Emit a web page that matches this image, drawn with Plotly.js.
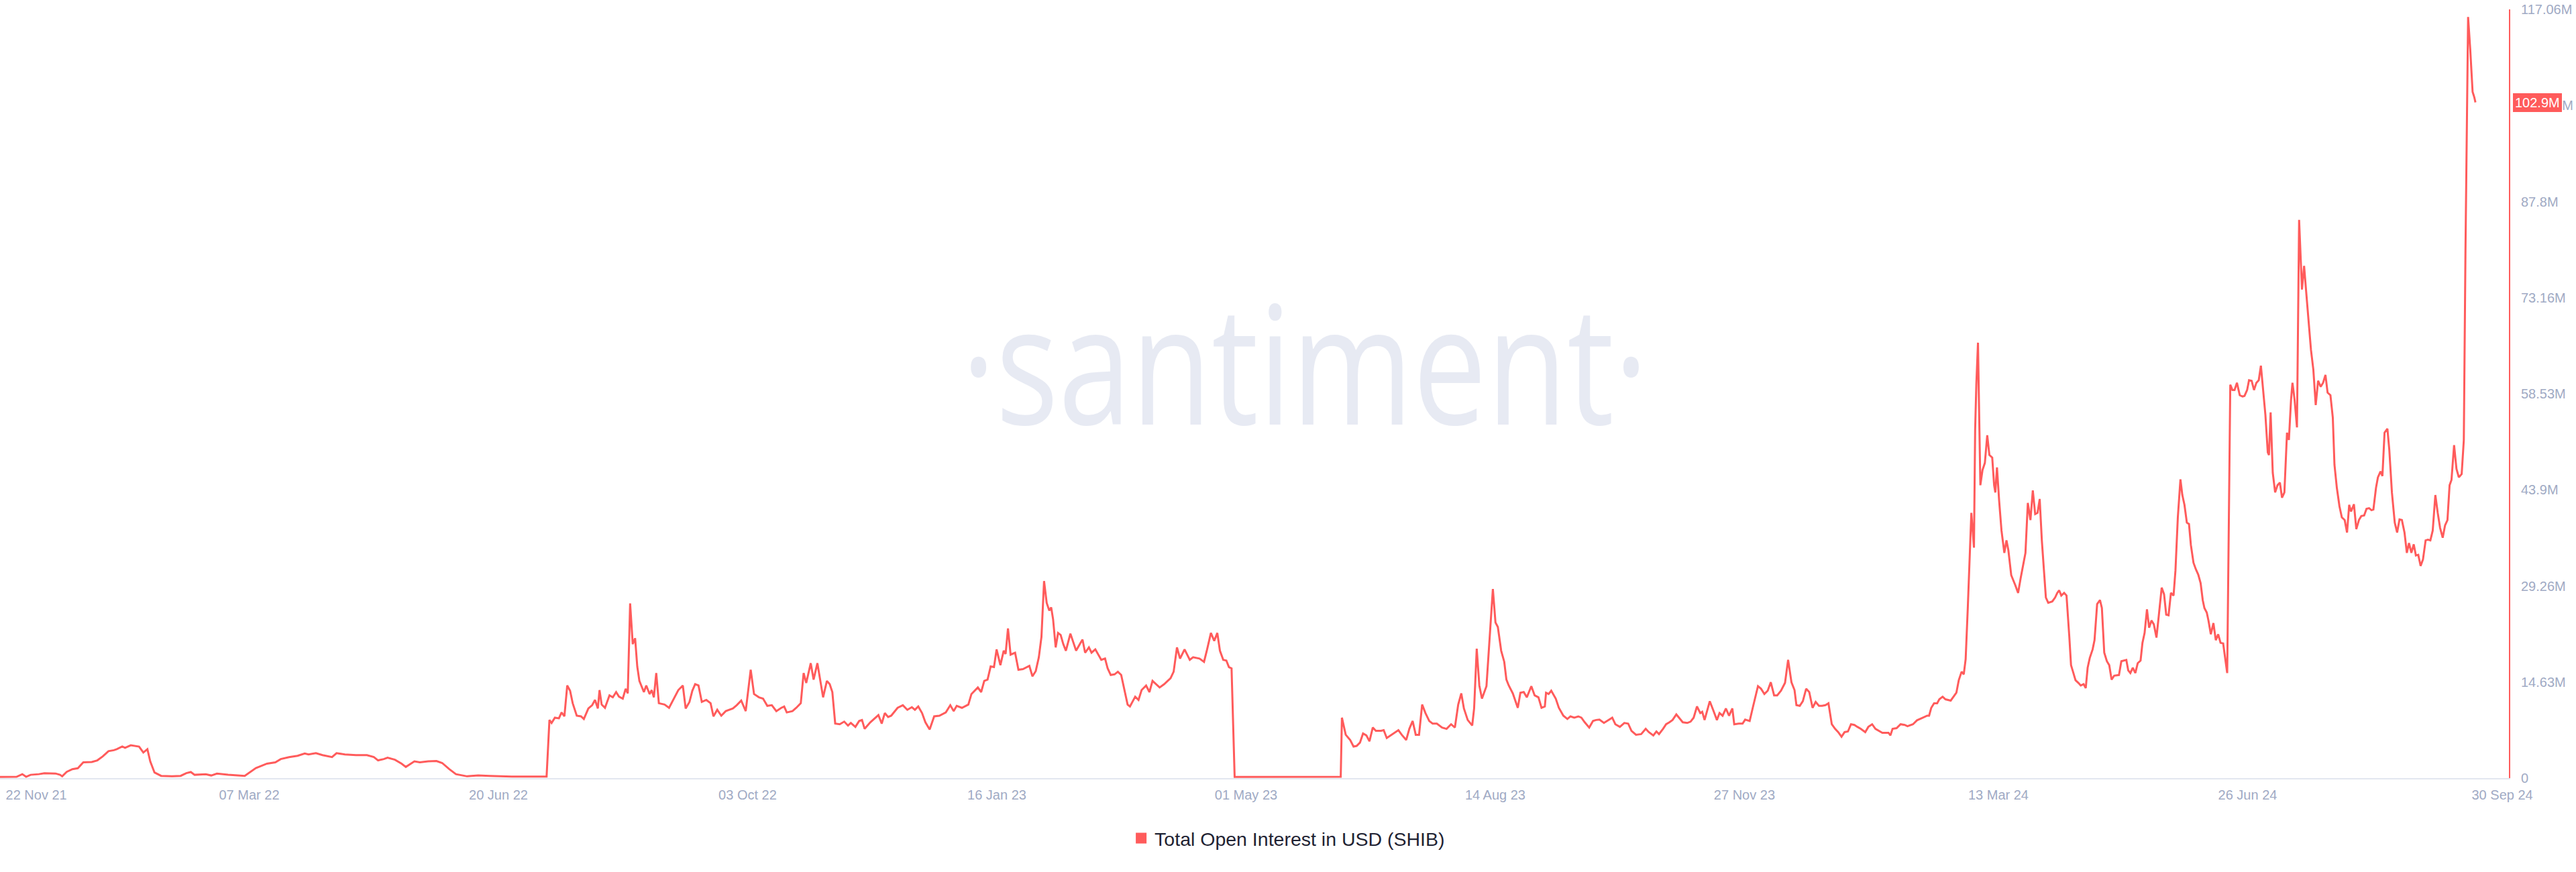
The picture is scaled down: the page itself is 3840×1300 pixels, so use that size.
<!DOCTYPE html>
<html>
<head>
<meta charset="utf-8">
<script src="https://cdn.plot.ly/plotly-3.0.1.min.js"></script>
<style>
  html, body { margin: 0; padding: 0; background: #ffffff; }
  #chart { width: 3840px; height: 1300px; }
</style>
</head>
<body>
<div id="chart"></div>
<script>
// ---------------- DATA ----------------
// Day offsets counted from 22 Nov 2021, value = total open interest in millions of USD
const BASE_DATE = Date.UTC(2021, 10, 22);

const oiLate2021to2022 = [
  [0,0.17],[7,0.2],[9.4,0.6],[11,0.2],[12.9,0.5],[16.4,0.6],[18.7,0.75],[23.4,0.7],[25.3,0.5],[26.2,0.27],
  [28.1,0.95],[30.5,1.36],[32.8,1.5],[35.1,2.4],[38.7,2.45],[41,2.7],[43.3,3.3],[45.7,4.1],[48,4.25],[49.2,4.4],
  [51.5,4.8],[52.7,4.6],[55.1,5.0],[58.6,4.8],[60.4,3.9],[62.1,4.4],[63.3,2.55],[65.1,0.85],[67.9,0.34],[72.6,0.27],
  [76.1,0.34],[78.5,0.75],[80.4,0.92],[82,0.5],[86.7,0.58],[89,0.4],[91.4,0.68],[96.1,0.5],[103.1,0.34],[107.8,1.53],
  [112.5,2.2],[116,2.4],[118.3,2.9],[121.8,3.2],[125.4,3.4],[128.4,3.75],[130,3.6],[133.1,3.8],[135.9,3.5],[139.9,3.2],
  [141.8,3.8],[145.3,3.6],[150,3.5],[154.6,3.5],[157.5,3.2],[159.3,2.7],[161.7,2.9],[163.3,3.1],[166.4,2.8],[169.2,2.2],
  [171,1.7],[174.6,2.55],[176.9,2.4],[180.4,2.55],[183.9,2.6],[186.3,2.3],[189.3,1.36],[192.1,0.6],[196.8,0.27],[201.5,0.4],
  [206.2,0.34],[215.6,0.24],[230.3,0.24],[231.5,8.85],[232.4,8.4],[233.8,9.2],[235.5,9.1],[236.6,10.0],[237.8,9.4],[239,14.1],
  [240.2,13.3],[241.3,11.4],[243,9.5],[244.8,9.4],[246,9.0],[247.9,10.6],[249.5,11.1],[250.7,11.9],[251.9,10.6],[252.6,13.4],
  [253.5,11.2],[254.9,10.7],[256.8,12.6],[258.2,12.3],[259.6,13.1],[260.8,12.4],[262.4,12.1],[263.6,13.6],[264.5,12.9],[265.5,26.6],
  [266.6,20.4],[267.6,21.3],[268.5,17.0],[269.4,14.8],[271.3,13.1],[272.3,14.1],[273.7,12.8],[274.6,13.4],[275.5,12.3],[276.5,16.0],
  [277.6,11.4],[280,11.2],[281.9,10.7],[284,12.1],[285.8,13.4],[287.7,14.1],[288.9,10.6],[290.5,11.6],[291.7,13.3],[292.9,14.3],
  [294.3,14.1],[295.7,11.6],[297.6,11.9],[299.4,11.4],[300.6,9.4],[302.2,10.4],[303.9,9.5],[305.8,10.2],[308.8,10.6],[310.4,11.1],
  [312.3,11.8],[314.2,10.2],[316.3,16.5],[317.7,12.8],[319.8,12.3],[321.5,12.1],[323.3,11.0],[325.2,11.1],[327.1,10.2],[329.2,10.7],
  [330.4,10.9],[331.5,10.0],[333.9,10.2],[335.5,10.7],[337.4,11.4],[338.6,16.0],[339.7,14.5],[341.6,17.5],[342.8,15.0],[344.4,17.5],
  [345.6,14.8],[346.8,12.3],[348.4,14.8],[349.6,14.3],[350.7,13.1],[351.9,8.3],[353.8,8.2],[355.7,8.6],[357.3,8.0],[358.5,8.4],
  [360.4,7.8],[362,8.7],[363.2,8.85],[364.3,7.5],[366.7,8.5]
];

const oi2023 = [
  [370.1,9.6],[371.5,8.3],[372.8,9.9],[374.2,9.3],[375.5,9.5],[378.2,10.7],[380.4,11.1],[382.3,10.4],[384.2,10.8],[385.5,10.4],
  [386.9,10.9],[388.5,9.9],[389.9,8.5],[391.7,7.4],[393.6,9.4],[395.8,9.5],[398.5,10.0],[400.4,11.1],[401.8,10.2],[403.1,11.0],
  [405.3,10.7],[408,11.2],[409.3,12.8],[412,13.8],[413.4,13.1],[414.7,14.8],[416.1,15.0],[417.4,17.0],[418.8,16.9],[419.9,19.6],
  [421.5,17.2],[422.9,19.4],[423.7,18.9],[424.7,22.8],[425.8,18.8],[427.7,19.1],[429.1,16.5],[431,16.6],[433.7,17.1],[435,15.5],
  [436.4,16.3],[437.7,18.4],[438.8,21.5],[439.9,30.0],[441,26.7],[442.1,25.5],[442.9,26.0],[443.7,24.2],[444.8,19.9],[445.8,22.1],
  [446.9,21.8],[448,20.4],[449.1,19.4],[451,22.0],[452.3,20.6],[453.4,19.4],[455.3,20.6],[456.1,21.1],[457.2,19.1],[458.8,19.9],
  [459.9,19.1],[461.5,19.6],[464,18.0],[465.6,18.2],[466.7,16.7],[468,15.7],[469.6,15.8],[471,16.2],[472.4,15.7],[473.7,13.6],
  [475.1,11.2],[476.1,10.9],[478.3,12.4],[479.7,11.9],[481,13.4],[482.9,14.1],[484.3,13.1],[485.6,14.8],[487.2,14.3],[488.6,13.8],
  [490.5,14.3],[493.2,15.2],[494.5,16.2],[495.9,19.9],[497.2,18.2],[499.1,19.6],[501.3,18.0],[502.7,18.4],[505.4,18.2],[507.3,17.7],
  [508.6,19.6],[510.2,22.1],[511.6,20.9],[512.9,22.1],[514,19.4],[515.4,18.0],[516.7,17.9],[517.8,16.9],[518.9,16.7],[520.2,0.17],
  [564.9,0.2],[565.4,9.2],[567,6.6],[568.9,5.8],[570.3,4.8],[571.6,4.9],[573,5.4],[574.3,6.8],[575.7,6.5],[577,5.6],
  [578.4,7.7],[579.7,7.2],[581.9,7.2],[583,7.3],[584.3,6.1],[586.5,6.6],[587.9,7.0],[589.2,7.3],[590.6,6.6],[592.5,5.8],
  [593.8,7.5],[595.2,8.7],[596.5,6.6],[597.9,6.6],[599.2,11.2],[600.6,9.9],[602.2,8.7],[603.6,8.3],[605.4,8.3],[607.6,7.7],
  [609.5,7.5],[611.4,8.2],[613,7.7],[614.4,11.2],[615.7,12.9],[616.8,10.6],[618.4,8.85],[620.3,8.0],[621.1,10.6],[622.2,19.7],
  [623.3,14.1],[624.4,12.1],[626.3,14.0],[627.6,21.1],[629,28.8],[630.1,23.7],[631.1,23.0],[632.5,19.4],[633.8,17.7],[634.7,15.0],
  [635.7,14.1],[637.4,12.9],[638.7,11.6],[639.5,10.7],[640.6,13.0],[642,13.1],[643.3,12.3],[645.2,14.0],[646.6,12.6],[648.2,12.3],
  [649.5,10.7],[650.9,10.9],[651.4,13.0],[652.5,12.8],[653.6,13.3],[655.5,12.1],[656.8,10.7],[658.7,9.5],[660.4,9.0],[661.7,9.4],
  [663.3,9.2],[665,9.4],[666.3,9.2],[667.7,8.5],[669.6,7.7],[671.2,8.7],[672.5,8.85],[673.9,8.9],[675.8,8.4],[677.9,8.85],
  [679.3,9.2],[680.6,8.2],[682.5,7.8],[684.4,8.4],[686,8.3],[687.4,7.2],[689.3,6.6],[691.5,6.7],[693.4,7.5],[694.7,7.0],
  [696.6,6.5],[697.9,7.1],[699,6.7],[700.7,7.5],[702,8.2],[703.4,8.5],[704.7,8.85],[706.3,9.7],[707.7,9.1],[709,8.5],
  [710.9,8.4],[712.3,8.6],[713.6,9.2],[715,10.9],[716.4,9.9],[717.2,10.1],[718.2,8.85],[720.4,11.7],[721.8,10.4],[723.4,8.85],
  [724.5,9.9],[725.8,9.5],[727.2,10.6],[728.5,9.5],[729.9,10.6],[730.7,8.2],[732.6,8.3],[734.2,8.3],[735.3,8.9],[737.2,8.7],
  [738.5,10.7],[740.7,14.0],[742,13.6],[743.4,12.8],[744.8,13.3],[746.1,14.6],[747.5,12.6],[748.8,12.6],[750.4,13.3],[752.1,14.5],
  [753.4,18.0],[754.8,14.6],[756.1,13.4],[756.9,11.1],[758.3,11.0],[759.6,11.7],[761,13.6],[762.3,13.1],[763.7,10.7],[765,11.6],
  [766.4,11.0],[767.7,11.0],[769.1,11.1],[770.4,11.4],[771.8,8.2],[773.2,7.5],[774.5,7.0],[775.9,6.3],[777.2,7.0],[778.6,7.1],
  [779.9,8.2],[781.3,8.1],[782.6,7.8],[784,7.5],[785.9,7.0],[787.2,7.8],[788.8,8.2],[790.2,7.5]
];

const oi2024 = [
  [793.1,6.9],[795.7,6.9],[796.5,6.5],[797.4,7.5],[799.1,7.6],[800.8,8.2],[802.5,8.1],[803.7,7.9],[806,8.2],[807.7,8.8],
  [810.2,9.2],[812,9.5],[812.8,9.5],[813.7,10.7],[814.9,11.4],[816.2,11.4],[817.1,12.0],[818.5,12.4],[819.7,12.0],[821.9,11.8],
  [823.1,12.4],[824.3,13.0],[825.3,14.9],[826.5,16.2],[827.4,15.8],[828.2,18.1],[829.1,25.9],[829.9,33.9],[830.6,40.4],[831.7,35.1],
  [832.2,53.0],[832.7,59.9],[833.4,66.3],[833.9,55.3],[834.4,44.6],[835.3,46.9],[836.3,48.0],[837.3,52.2],[838.2,49.2],[839.4,48.8],
  [840.2,44.6],[840.7,43.5],[841.4,47.3],[842.3,42.3],[843.3,37.7],[844.5,34.3],[845.4,36.2],[846.2,34.7],[847.4,30.9],[849.1,29.4],
  [850.3,28.2],[851.4,30.5],[852.2,32.0],[853.4,34.3],[854.4,41.9],[855.5,39.3],[856.5,43.8],[857.5,40.2],[858.5,40.4],[859.4,42.5],
  [860.3,36.2],[861.3,30.9],[862,27.5],[863,26.7],[864.7,26.9],[865.9,27.5],[866.8,28.2],[867.6,28.6],[868.5,27.8],[869.7,28.2],
  [870.7,27.8],[871.9,21.4],[872.6,17.2],[873.6,16.0],[874.5,14.9],[875.7,14.5],[876.7,14.1],[877.9,14.3],[878.8,13.7],[879.6,16.8],
  [880.5,18.3],[881.7,19.6],[882.5,21.0],[883.6,26.5],[884.8,27.1],[885.6,25.9],[886.6,19.1],[887.7,17.8],[888.7,17.2],[889.7,15.0],
  [890.8,15.6],[892.8,15.7],[893.8,17.8],[895.9,18.0],[896.7,16.4],[897.6,16.0],[898.6,16.8],[899.7,16.0],[900.7,17.5],[901.9,17.9],
  [902.7,20.6],[903.6,22.1],[904.6,25.7],[905.5,22.9],[906.5,24.0],[907.5,23.4],[908.6,21.4],[909.6,24.8],[910.8,29.0],[911.8,28.0],
  [912.7,24.9],[913.7,24.8],[914.7,28.2],[915.8,27.8],[916.6,31.6],[917.6,39.7],[918.7,45.5],[919.5,43.1],[920.4,41.6],[921.4,38.9],
  [922.3,38.7],[923.1,35.5],[924.2,32.8],[925.2,31.8],[926.2,31.0],[927.2,29.7],[928.1,27.1],[928.8,25.9],[929.8,25.2],[930.5,24.0],
  [931.5,21.9],[932.6,23.6],[933.6,21.0],[934.6,21.9],[935.6,20.6],[936.7,20.5],[937.5,18.3],[938.4,16.0],[939.1,39.3],[939.7,59.9],
  [940.6,59.1],[941.5,59.1],[942.5,60.2],[943.7,58.3],[944.9,58.1],[945.7,58.2],[946.8,59.1],[947.6,60.6],[948.7,60.5],[949.7,59.1],
  [950.7,60.2],[951.7,60.6],[952.6,62.8],[953.4,59.9],[954.5,55.3],[955.5,49.6],[956,49.2],[956.7,55.7],[957.6,46.5],[958.6,43.5],
  [959.6,44.6],[960.6,45.0],[961.5,42.7],[962.5,43.5],[963.6,52.6],[964.4,51.5],[965.3,57.6],[965.9,60.2],[966.8,57.6],[967.8,53.4],
  [968.7,85.0],[969.9,74.4],[970.8,78.0],[971.6,74.4],[972.6,69.8],[973.7,65.2],[974.7,62.2],[975.7,56.8],[976.7,60.5],[977.8,59.6],
  [978.8,60.2],[979.8,61.4],[980.7,58.7],[981.9,58.3],[982.9,54.9],[983.6,47.7],[984.6,44.2],[985.7,41.4],[986.7,39.7],[987.9,39.3],
  [988.9,37.4],[989.8,41.6],[990.6,40.6],[991.8,41.7],[992.8,37.9],[993.9,39.3],[994.9,39.9],[996.1,40.0],[997.1,41.0],[998.2,41.1],
  [999.2,40.8],[1000,40.9],[1001.1,44.2],[1001.9,45.8],[1003,46.7],[1003.8,46.0],[1004.7,52.6],[1005.9,53.2],[1006.7,50.0],[1007.8,43.5],
  [1009,38.9],[1010,37.4],[1011,39.4],[1012,39.3],[1013.1,37.4],[1014.1,34.3],[1015,35.8],[1016,34.3],[1017,35.6],[1017.9,33.9],
  [1018.9,34.0],[1019.9,32.3],[1020.9,33.3],[1022,36.2],[1023,36.3],[1024,36.2],[1025,37.7],[1026.1,43.1],[1027.1,40.4],[1028.1,38.1],
  [1029.2,36.6],[1030.2,38.5],[1031.2,39.3],[1032.1,44.6],[1032.9,45.4],[1034,50.7],[1035,47.1],[1036,45.8],[1037.2,46.3],[1038.1,51.5],
  [1038.8,80.5],[1039.4,103.3],[1039.9,115.9],[1040.8,111.0],[1041.8,104.5],[1042.5,103.7],[1043,102.9]
];

const LAST_VALUE_LABEL = '102.9M';
const LAST_VALUE = 102.9;

// X tick labels (the first and last are nudged inward like the original chart)
const xTickDays   = [15.3, 105, 210, 315, 420, 525, 630, 735, 842, 947, 1054.3];
const xTickLabels = ['22 Nov 21','07 Mar 22','20 Jun 22','03 Oct 22','16 Jan 23','01 May 23','14 Aug 23','27 Nov 23','13 Mar 24','26 Jun 24','30 Sep 24'];
const xRangeDays  = [0, 1057.1];

// Y ticks (millions of USD)
const yTickVals   = [0, 14.6325, 29.265, 43.8975, 58.53, 73.1625, 87.795, 102.4275, 117.06];
const yTickLabels = ['0','14.63M','29.26M','43.9M','58.53M','73.16M','87.8M','102.43M','117.06M'];
const yRange      = [0, 117.06];

const SERIES_NAME = 'Total Open Interest in USD (SHIB)';

// ---------------- BUILD ----------------
function d2s(d) {
  return new Date(BASE_DATE + d * 86400000).toISOString().replace('T', ' ').slice(0, 19);
}
const allPoints = [].concat(oiLate2021to2022, oi2023, oi2024);
const xDates = allPoints.map(p => d2s(p[0]));
const yVals  = allPoints.map(p => p[1]);

const RED = '#ff5b5b';
const AXIS_TXT = '#9faac4';
const FONT = '"Liberation Sans", Arial, Helvetica, sans-serif';

const traces = [
  {
    x: xDates, y: yVals, type: 'scatter', mode: 'lines',
    line: { color: RED, width: 3 },
    showlegend: false, hoverinfo: 'skip'
  },
  {
    x: [null], y: [null], type: 'scatter', mode: 'markers',
    marker: { symbol: 'square', size: 18, color: RED },
    name: SERIES_NAME, showlegend: true
  }
];

const layout = {
  width: 3840, height: 1300,
  margin: { l: 0, r: 100, t: 14, b: 140, pad: 0 },
  paper_bgcolor: '#ffffff', plot_bgcolor: '#ffffff',
  font: { family: FONT, color: AXIS_TXT, size: 20 },
  showlegend: true,
  legend: {
    orientation: 'h', x: 0.5134, xanchor: 'center', y: -0.0785, yanchor: 'middle',
    font: { family: FONT, size: 28.5, color: '#1f2333' }, bgcolor: 'rgba(0,0,0,0)'
  },
  xaxis: {
    type: 'date', range: xRangeDays.map(d2s),
    tickmode: 'array', tickvals: xTickDays.map(d2s), ticktext: xTickLabels,
    showgrid: false, zeroline: false, showline: true, linecolor: '#e3e7f0', linewidth: 2,
    ticks: '', tickfont: { family: FONT, size: 20, color: AXIS_TXT }, ticklabelstandoff: 6,
    fixedrange: true
  },
  yaxis: {
    side: 'right', range: yRange,
    tickmode: 'array', tickvals: yTickVals, ticktext: yTickLabels,
    showgrid: false, zeroline: false, showline: true, linecolor: RED, linewidth: 2,
    ticks: '', tickfont: { family: FONT, size: 20, color: AXIS_TXT }, ticklabelstandoff: 12,
    fixedrange: true
  },
  annotations: [
    {
      xref: 'paper', yref: 'paper', x: 0.5201, y: 0.5436, xanchor: 'center', yanchor: 'middle',
      text: '·santiment·', showarrow: false,
      font: { family: '"Open Sans", "Noto Sans", sans-serif', size: 246, color: '#e7eaf3' }
    },
    {
      xref: 'paper', yref: 'y', x: 1, y: LAST_VALUE, xanchor: 'left', yanchor: 'middle', xshift: 6,
      text: LAST_VALUE_LABEL, showarrow: false, bgcolor: RED, borderpad: 3, borderwidth: 0,
      font: { family: FONT, size: 20, color: '#ffffff' }
    }
  ]
};

Plotly.newPlot('chart', traces, layout, { displayModeBar: false, staticPlot: true }).then(gd => {
  const t = gd.querySelector('.annotation[data-index="0"] text');
  if (t) {
    t.style.transformBox = 'fill-box';
    t.style.transformOrigin = 'center';
    t.style.transform = 'scaleX(0.795)';
  }
});
</script>
</body>
</html>
